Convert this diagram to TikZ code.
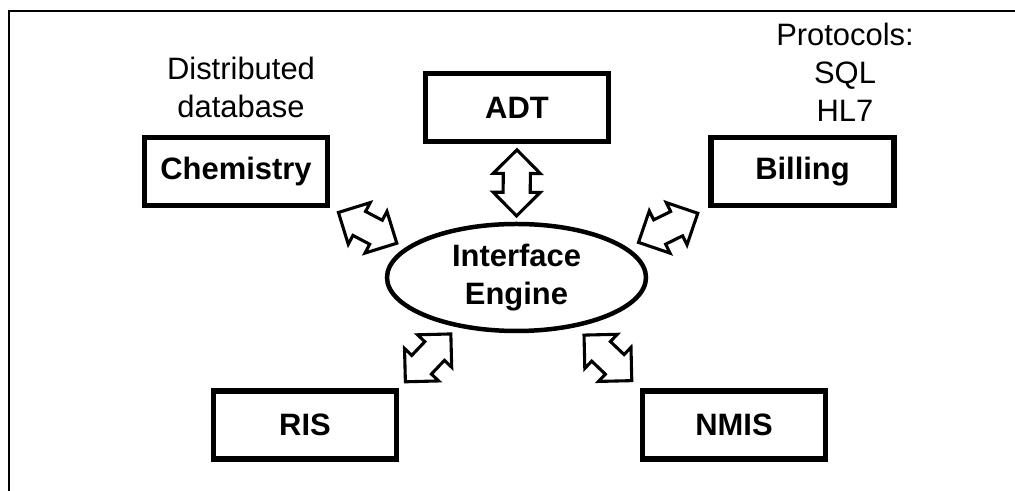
\documentclass[tikz,border=0pt]{standalone}
\usepackage{fontspec}
\setmainfont{Liberation Sans}
\usetikzlibrary{shapes.geometric,shapes.arrows}

\tikzset{
  sysbox/.style={draw, line width=3.6pt, minimum width=4.575cm, minimum height=1.7cm, font=\fontsize{22}{27}\selectfont\bfseries},
  engine/.style={ellipse, draw, line width=3.2pt, minimum width=6.475cm, minimum height=2.675cm, align=center, inner sep=0pt, font=\fontsize{22}{27}\selectfont\bfseries},
  note/.style={align=center, inner sep=0pt, font=\fontsize{22}{27}\selectfont},
  dblarrow/.style={double arrow, draw, fill=white, line width=2.2pt, minimum height=1.65cm, minimum width=1.1cm, inner sep=0.3cm, double arrow head extend=0.25cm}
}

\begin{document}
\begin{tikzpicture}
        \useasboundingbox (0,0) rectangle (25.375,12.275);

        % The frame (top and left edges only)
        \draw[line width=2.1pt] (25.375,12) -- (0.225,12) -- (0.225,0);

        % The hub
        \node[engine] (ie) at (12.9125,5.3375) {Interface\\Engine};

        % The connected systems
        \node[sysbox] (chem) at (5.9,7.9875) {Chemistry};
        \node[sysbox] (adt) at (12.925,9.5875) {ADT};
        \node[sysbox] (bill) at (20.0625,7.9875) {Billing};
        \node[sysbox] (ris) at (7.625,1.65) {RIS};
        \node[sysbox] (nmis) at (18.35,1.65) {NMIS};

        % Notes
        \node[note] (distnote) at (6.025,10.08) {Distributed\\database};
        \node[note] (protnote) at (21.125,10.47) {Protocols:\\SQL\\HL7};

        % Two-way links to the engine
        \path (chem.south east) -- (ie.165) node[dblarrow, midway, sloped] (lchem) {};
        \path (adt.south) -- (ie.north) node[dblarrow, midway, sloped] (ladt) {};
        \path (bill.south west) -- (ie.15) node[dblarrow, midway, sloped] (lbill) {};
        \path (ris.north east) -- (ie.220) node[dblarrow, midway, sloped] (lris) {};
        \path (nmis.north west) -- (ie.320) node[dblarrow, midway, sloped] (lnmis) {};
    \end{tikzpicture}
\end{document}
